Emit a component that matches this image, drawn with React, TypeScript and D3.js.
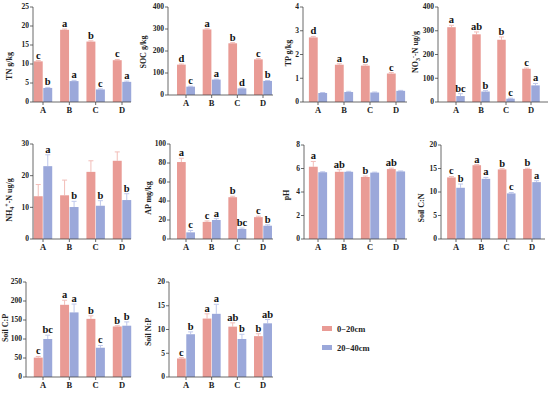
import React from 'react';
import * as d3 from 'd3';

const categories = ['A', 'B', 'C', 'D'];
const seriesNames = ['0\u221220cm', '20\u221240cm'];

// values (surface = 0-20cm, deep = 20-40cm)
const tnTop = [10.7, 19.0, 15.9, 11.0];
const tnSub = [3.7, 5.5, 3.3, 5.3];
const tnTopErr = [0.2, 0.2, 0.2, 0.2];
const tnSubErr = [0.15, 0.2, 0.15, 0.2];
const tnTopLet = ['c', 'a', 'b', 'c'];
const tnSubLet = ['b', 'a', 'c', 'a'];

const socTop = [138, 298, 235, 162];
const socSub = [38, 70, 30, 64];
const socTopErr = [3, 3, 3, 3];
const socSubErr = [2, 2, 2, 2];
const socTopLet = ['d', 'a', 'b', 'c'];
const socSubLet = ['c', 'a', 'd', 'b'];

const tpTop = [2.72, 1.57, 1.53, 1.2];
const tpSub = [0.38, 0.42, 0.4, 0.47];
const tpTopErr = [0.04, 0.04, 0.04, 0.04];
const tpSubErr = [0.02, 0.03, 0.02, 0.02];
const tpTopLet = ['d', 'a', 'b', 'c'];
const tpSubLet = ['', '', '', ''];

const no3Top = [315, 285, 262, 140];
const no3Sub = [25, 44, 14, 70];
const no3TopErr = [8, 10, 12, 3];
const no3SubErr = [10, 4, 2, 8];
const no3TopLet = ['a', 'ab', 'b', 'c'];
const no3SubLet = ['bc', 'b', 'c', 'a'];

const nh4Top = [13.5, 13.8, 21.2, 24.7];
const nh4Sub = [23.0, 10.1, 10.5, 12.3];
const nh4TopErr = [3.7, 4.8, 3.5, 2.8];
const nh4SubErr = [3.6, 1.8, 1.6, 2.0];
const nh4TopLet = ['', '', '', ''];
const nh4SubLet = ['a', 'b', 'b', 'b'];

const apTop = [81, 18, 44, 23];
const apSub = [7, 20, 10.5, 14];
const apTopErr = [4, 1, 1, 1];
const apSubErr = [2, 1.5, 1, 1];
const apTopLet = ['a', 'c', 'b', 'c'];
const apSubLet = ['c', 'a', 'bc', 'b'];

const phTop = [6.15, 5.72, 5.28, 5.95];
const phSub = [5.68, 5.72, 5.65, 5.75];
const phTopErr = [0.45, 0.18, 0.08, 0.08];
const phSubErr = [0.04, 0.04, 0.04, 0.04];
const phTopLet = ['a', 'ab', 'b', 'ab'];
const phSubLet = ['', '', '', ''];

const cnTop = [13.1, 15.7, 14.8, 14.9];
const cnSub = [10.9, 12.8, 9.7, 12.1];
const cnTopErr = [0.2, 0.15, 0.15, 0.15];
const cnSubErr = [0.8, 0.3, 0.2, 0.3];
const cnTopLet = ['c', 'a', 'b', 'b'];
const cnSubLet = ['b', 'a', 'c', 'a'];

const cpTop = [51, 190, 153, 133];
const cpSub = [100, 170, 77, 135];
const cpTopErr = [3, 12, 8, 2];
const cpSubErr = [10, 22, 6, 10];
const cpTopLet = ['c', 'a', 'b', 'b'];
const cpSubLet = ['bc', 'a', 'c', 'b'];

const npTop = [3.9, 12.3, 10.6, 8.6];
const npSub = [9.0, 13.3, 8.0, 11.3];
const npTopErr = [0.2, 1.0, 0.8, 0.5];
const npSubErr = [0.5, 2.0, 1.0, 0.8];
const npTopLet = ['c', 'a', 'ab', 'b'];
const npSubLet = ['b', 'a', 'b', 'ab'];

const colors = ['#E99B95', '#9BA8DA'];
const errColors = ['#F2BDB8', '#BFC8EC'];
const font = '"Liberation Serif", "Times New Roman", serif';

type Panel = {
  label: React.ReactNode;
  top: number[]; sub: number[]; topErr: number[]; subErr: number[];
  topLet: string[]; subLet: string[];
  max: number; step: number;
  ax: number; first: number; last: number; xEnd: number;
  yTop: number; yBot: number; labX: number; labY: number;
};

const sub = (t: string) => <tspan fontSize="6" dy="2">{t}</tspan>;

const panels: Panel[] = [
  { label: 'TN g/kg', top: tnTop, sub: tnSub, topErr: tnTopErr, subErr: tnSubErr, topLet: tnTopLet, subLet: tnSubLet,
    max: 25, step: 5, ax: 33, first: 43, last: 122, xEnd: 131, yTop: 7, yBot: 102, labX: 9, labY: 66 },
  { label: 'SOC g/kg', top: socTop, sub: socSub, topErr: socTopErr, subErr: socSubErr, topLet: socTopLet, subLet: socSubLet,
    max: 400, step: 100, ax: 168, first: 186, last: 263, xEnd: 273, yTop: 7, yBot: 95, labX: 143, labY: 52 },
  { label: 'TP g/kg', top: tpTop, sub: tpSub, topErr: tpTopErr, subErr: tpSubErr, topLet: tpTopLet, subLet: tpSubLet,
    max: 4, step: 1, ax: 303, first: 318, last: 396, xEnd: 407, yTop: 7, yBot: 102, labX: 288, labY: 53 },
  { label: <>NO{sub('3')}<tspan fontSize="6" dy="-5">-</tspan><tspan dy="3">-N ug/g</tspan></>,
    top: no3Top, sub: no3Sub, topErr: no3TopErr, subErr: no3SubErr, topLet: no3TopLet, subLet: no3SubLet,
    max: 400, step: 100, ax: 438, first: 456, last: 531, xEnd: 548, yTop: 7, yBot: 102, labX: 415, labY: 52 },
  { label: <>NH{sub('4')}<tspan fontSize="6" dy="-5">+</tspan><tspan dy="3">-N ug/g</tspan></>,
    top: nh4Top, sub: nh4Sub, topErr: nh4TopErr, subErr: nh4SubErr, topLet: nh4TopLet, subLet: nh4SubLet,
    max: 30, step: 10, ax: 33, first: 43, last: 122, xEnd: 131, yTop: 144, yBot: 239, labX: 9, labY: 200 },
  { label: 'AP mg/kg', top: apTop, sub: apSub, topErr: apTopErr, subErr: apSubErr, topLet: apTopLet, subLet: apSubLet,
    max: 100, step: 20, ax: 170, first: 186, last: 263, xEnd: 273, yTop: 144, yBot: 239, labX: 148, labY: 198 },
  { label: 'pH', top: phTop, sub: phSub, topErr: phTopErr, subErr: phSubErr, topLet: phTopLet, subLet: phSubLet,
    max: 8, step: 2, ax: 304, first: 318, last: 396, xEnd: 407, yTop: 145, yBot: 239, labX: 286, labY: 195 },
  { label: 'Soil C:N', top: cnTop, sub: cnSub, topErr: cnTopErr, subErr: cnSubErr, topLet: cnTopLet, subLet: cnSubLet,
    max: 20, step: 5, ax: 441, first: 456, last: 532, xEnd: 545, yTop: 145, yBot: 239, labX: 421, labY: 208 },
  { label: 'Soil C:P', top: cpTop, sub: cpSub, topErr: cpTopErr, subErr: cpSubErr, topLet: cpTopLet, subLet: cpSubLet,
    max: 250, step: 50, ax: 26, first: 43, last: 122, xEnd: 131, yTop: 282, yBot: 377, labX: 5, labY: 328 },
  { label: 'Soil N:P', top: npTop, sub: npSub, topErr: npTopErr, subErr: npSubErr, topLet: npTopLet, subLet: npSubLet,
    max: 20, step: 5, ax: 169, first: 186, last: 263, xEnd: 273, yTop: 282, yBot: 377, labX: 148, labY: 332 },
];

function BarPanel({ p }: { p: Panel }) {
  const stepX = (p.last - p.first) / 3;
  const x = d3.scaleBand<string>().domain(categories)
    .range([p.first - stepX / 2, p.last + stepX / 2]).paddingInner(0.3).paddingOuter(0.15);
  const xs = d3.scaleBand<number>().domain([0, 1]).range([0, x.bandwidth()]).paddingInner(0.06);
  const y = d3.scaleLinear().domain([0, p.max]).range([p.yBot, p.yTop]);
  const ticks = d3.range(0, p.max + p.step / 2, p.step);
  const series = [
    { vals: p.top, errs: p.topErr, lets: p.topLet },
    { vals: p.sub, errs: p.subErr, lets: p.subLet },
  ];
  const axisColor = '#444';

  return (
    <g fontFamily={font} fontWeight="bold">
      {series.map((s, si) => categories.map((c, i) => {
        const bx = (x(c) ?? 0) + (xs(si) ?? 0);
        const bw = xs.bandwidth();
        const cx = bx + bw / 2;
        const v = s.vals[i];
        const e = s.errs[i];
        return (
          <g key={`${si}-${c}`}>
            <line x1={cx} x2={cx} y1={y(v)} y2={y(v + e)} stroke={errColors[si]} strokeWidth={1} />
            <line x1={cx - 2.5} x2={cx + 2.5} y1={y(v + e)} y2={y(v + e)} stroke={errColors[si]} strokeWidth={1} />
            <rect x={bx} y={y(v)} width={bw} height={p.yBot - y(v)} fill={colors[si]} />
            {s.lets[i] && (
              <text x={cx} y={y(v + e) - 2} textAnchor="middle" fontSize="10.5" fill="#111">{s.lets[i]}</text>
            )}
          </g>
        );
      }))}
      <line x1={p.ax} x2={p.ax} y1={p.yTop} y2={p.yBot} stroke={axisColor} strokeWidth={0.8} />
      <line x1={p.ax} x2={p.xEnd} y1={p.yBot} y2={p.yBot} stroke={axisColor} strokeWidth={0.8} />
      {ticks.map(t => (
        <g key={t}>
          <line x1={p.ax - 3} x2={p.ax} y1={y(t)} y2={y(t)} stroke={axisColor} strokeWidth={0.8} />
          <text x={p.ax - 4} y={y(t)} dy="0.33em" textAnchor="end" fontSize="7.5" fill="#222">{t}</text>
        </g>
      ))}
      {categories.map(c => {
        const cx = (x(c) ?? 0) + x.bandwidth() / 2;
        return (
          <g key={c}>
            <line x1={cx} x2={cx} y1={p.yBot} y2={p.yBot + 3} stroke={axisColor} strokeWidth={0.8} />
            <text x={cx} y={p.yBot + 11} textAnchor="middle" fontSize="8.5" fill="#222">{c}</text>
          </g>
        );
      })}
      <text transform={`translate(${p.labX},${p.labY}) rotate(-90)`} textAnchor="middle" dy="0.35em" fontSize="8" fill="#222">
        {p.label}
      </text>
    </g>
  );
}

export default function App() {
  return (
    <svg width={550} height={393} style={{ position: 'absolute', left: 0, top: 0, background: '#fff' }}>
      <rect width={550} height={393} fill="#fff" />
      {panels.map((p, i) => <BarPanel key={i} p={p} />)}
      {seriesNames.map((n, i) => (
        <g key={n} fontFamily={font} fontWeight="bold">
          <rect x={322} y={326 + i * 19} width={10} height={5} fill={colors[i]} />
          <text x={337} y={329 + i * 19} dy="0.35em" fontSize="8.5" fill="#222">{n}</text>
        </g>
      ))}
    </svg>
  );
}
